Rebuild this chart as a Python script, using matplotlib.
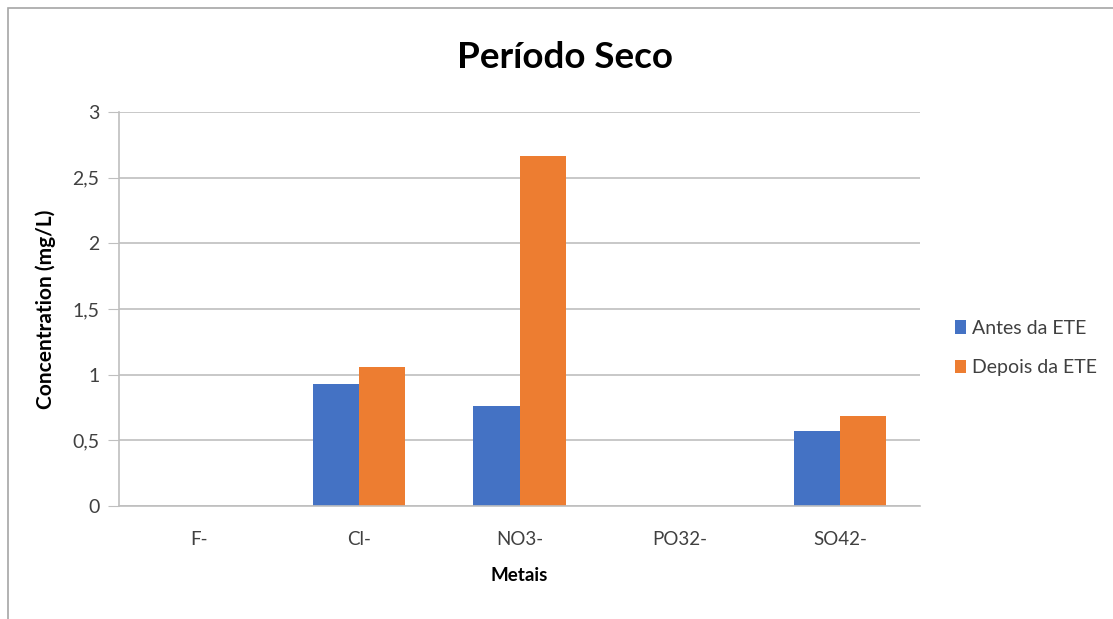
import matplotlib.pyplot as plt
import numpy as np
from matplotlib.patches import Rectangle

# data
categories = ['F-', 'Cl-', 'NO3-', 'PO32-', 'SO42-']
antes = [0, 0.93, 0.764, 0, 0.574]
depois = [0, 1.056, 2.663, 0, 0.683]
yticks = [0, 0.5, 1, 1.5, 2, 2.5, 3]
ytick_labels = ['0', '0,5', '1', '1,5', '2', '2,5', '3']

plt.rcParams['font.family'] = ['Lato', 'DejaVu Sans']

fig = plt.figure(figsize=(11.13, 6.19), dpi=100)
W, H = 1113, 619

# chart area border (only top and left visible in the crop)
fig.patches.append(Rectangle((8 / W, -0.1), 1.2, 1.1 - 8 / H, transform=fig.transFigure,
                             fill=False, edgecolor='#a6a6a6', linewidth=1.2))

ax = fig.add_axes([119 / W, (H - 506) / H, (920 - 119) / W, (506 - 112) / H])

x = np.arange(len(categories))
w = 0.2875
ax.bar(x - w / 2, antes, w, color='#4472C4', label='Antes da ETE')
ax.bar(x + w / 2, depois, w, color='#ED7D31', label='Depois da ETE')

ax.set_xlim(-0.5, len(categories) - 0.5)
ax.set_ylim(0, 3)
ax.set_yticks(yticks)
ax.set_yticklabels(ytick_labels)
ax.set_xticks(x)
ax.set_xticklabels(categories)
ax.yaxis.grid(True, color='#bfbfbf', linewidth=1.2)
ax.set_axisbelow(True)

for s in ['top', 'right']:
    ax.spines[s].set_visible(False)
ax.spines['left'].set_color('#bfbfbf')
ax.spines['bottom'].set_color('#bfbfbf')
ax.spines['left'].set_linewidth(1.2)
ax.spines['bottom'].set_linewidth(1.2)
ax.tick_params(axis='y', length=8, color='#bfbfbf', labelsize=14, labelcolor='#404040', pad=6)
ax.tick_params(axis='x', length=0, labelsize=13.5, labelcolor='#404040', pad=18)

ax.set_ylabel('Concentration (mg/L)', fontsize=15, fontweight='bold', color='#000000', labelpad=12)
ax.set_xlabel('Metais', fontsize=13.5, fontweight='bold', color='#000000', labelpad=14)

fig.text(565 / W, 1 - 57 / H, 'Período Seco', ha='center', va='center',
         fontsize=26.5, fontweight='bold', color='#000000')

ax.legend(loc='upper left', bbox_to_anchor=(947 / W, 1 - 312 / H), bbox_transform=fig.transFigure,
          frameon=False, fontsize=14, handlelength=0.6, handleheight=0.7, handletextpad=0.3,
          labelspacing=1.15, labelcolor='#404040', borderaxespad=0)

fig.savefig('out.png', dpi=100)
